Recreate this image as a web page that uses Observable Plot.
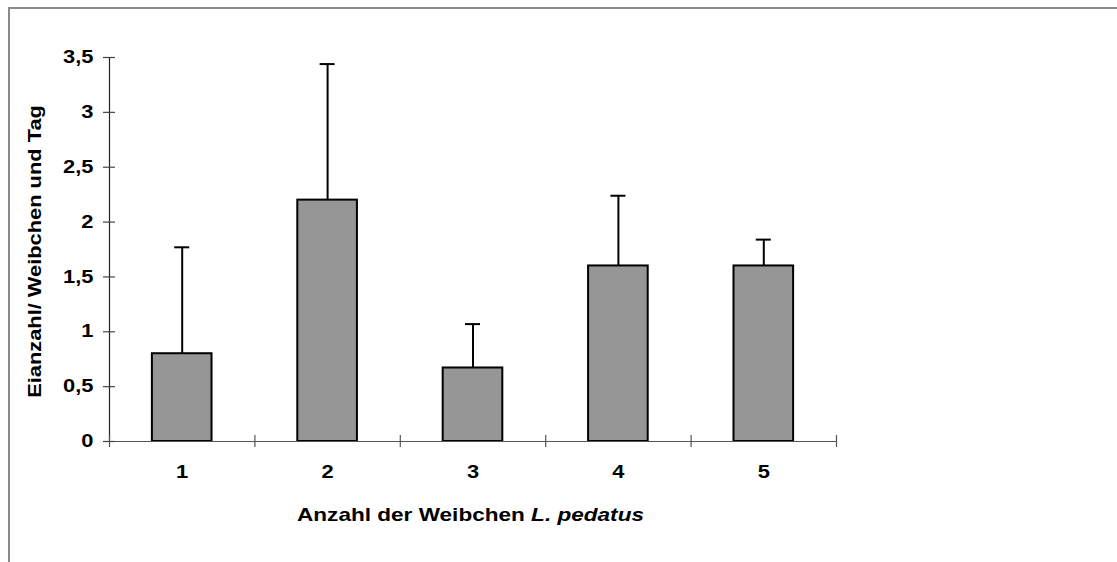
<!DOCTYPE html>
<html>
<head>
<meta charset="utf-8">
<script src="https://cdn.jsdelivr.net/npm/d3@7"></script>
<script src="https://cdn.jsdelivr.net/npm/@observablehq/plot@0.6"></script>
<style>
  html, body { margin: 0; padding: 0; background: white; overflow: hidden; }
  #wrap { position: relative; width: 1117px; height: 562px; overflow: hidden; }
  #frame { position: absolute; left: 8px; top: 7px; width: 3000px; height: 3000px;
           border-left: 2px solid #8a8a8a; border-top: 2px solid #8a8a8a; box-sizing: border-box; }
  #chart { position: absolute; left: 0; top: 0; }
</style>
</head>
<body>
<div id="wrap"><div id="frame"></div><div id="chart"></div></div>
<script>
// ---- data ----
const categories = [1, 2, 3, 4, 5];
const means = [0.8, 2.2, 0.67, 1.6, 1.6];
const errors = [0.97, 1.24, 0.40, 0.64, 0.24];
const yTicks = [0, 0.5, 1, 1.5, 2, 2.5, 3, 3.5];
const xTitleMain = "Anzahl der Weibchen ";
const xTitleItalic = "L. pedatus";
const yTitle = "Eianzahl/ Weibchen und Tag";

const data = categories.map((c, i) => ({cat: c, mean: means[i], upper: means[i] + errors[i]}));
const bounds = categories.map(c => c - 0.5).concat([categories[categories.length - 1] + 0.5]);
const half = 0.205;

const chart = Plot.plot({
  width: 1117,
  height: 562,
  marginLeft: 109,
  marginRight: 281,
  marginTop: 57,
  marginBottom: 121,
  x: {domain: [bounds[0], bounds[bounds.length - 1]]},
  y: {domain: [yTicks[0], yTicks[yTicks.length - 1]]},
  style: {fontFamily: "'Liberation Sans', Arial, sans-serif", fontSize: "17.5px", fontWeight: "bold",
          background: "transparent", color: "black", overflow: "visible"},
  marks: [
    Plot.rectY(data, {x1: d => d.cat - half, x2: d => d.cat + half, y: "mean",
      fill: "#969696", stroke: "black", strokeWidth: 2}),
    Plot.ruleX(data, {x: "cat", y1: "mean", y2: "upper", stroke: "black", strokeWidth: 2}),
    Plot.ruleY(data, {y: "upper", x1: "cat", x2: "cat", insetLeft: -7.5, insetRight: -7.5,
      stroke: "black", strokeWidth: 2}),
    // axis lines
    Plot.ruleY([0], {stroke: "#555", strokeWidth: 1.2, insetLeft: -6}),
    Plot.ruleX([bounds[0]], {stroke: "#222", strokeWidth: 1.2}),
    // crossing ticks
    Plot.ruleY(yTicks, {y: d => d, x1: bounds[0], x2: bounds[0], insetLeft: -6, insetRight: -6,
      stroke: "#444", strokeWidth: 1.2}),
    Plot.ruleX(bounds, {x: d => d, y1: 0, y2: 0, insetTop: -6, insetBottom: -6,
      stroke: "#555", strokeWidth: 1.2}),
    Plot.axisY({ticks: yTicks, tickSize: 0, tickPadding: 16, label: null,
      tickFormat: d => String(d).replace(".", ",")}),
    Plot.axisX({ticks: categories, tickSize: 0, tickPadding: 24, label: null,
      tickFormat: d => String(d)}),
    Plot.text([xTitleMain + xTitleItalic], {frameAnchor: "bottom", textAnchor: "middle", lineAnchor: "middle",
      dy: 74, dx: -2.5, fontSize: 18.5, fontWeight: "bold"}),
    Plot.text([yTitle], {frameAnchor: "left", textAnchor: "middle", lineAnchor: "middle",
      rotate: -90, dx: -74, dy: 2, fontSize: 18.5, fontWeight: "bold"})
  ]
});

document.getElementById("chart").appendChild(chart);

function stretch(el, k) {
  const len = el.getComputedTextLength();
  if (len > 0) {
    el.setAttribute("textLength", (len * k).toFixed(2));
    el.setAttribute("lengthAdjust", "spacingAndGlyphs");
  }
}

d3.select(chart).selectAll("text").each(function () {
  const txt = this.textContent;
  if (txt === xTitleMain + xTitleItalic) {
    const sel = d3.select(this);
    sel.text(null).style("white-space", "pre");
    sel.append("tspan").text(xTitleMain);
    sel.append("tspan").attr("font-style", "italic").text(xTitleItalic);
    stretch(this, 1.22);
  } else if (txt === yTitle) {
    stretch(this, 1.18);
  } else {
    stretch(this, 1.25);
  }
});
</script>
</body>
</html>
